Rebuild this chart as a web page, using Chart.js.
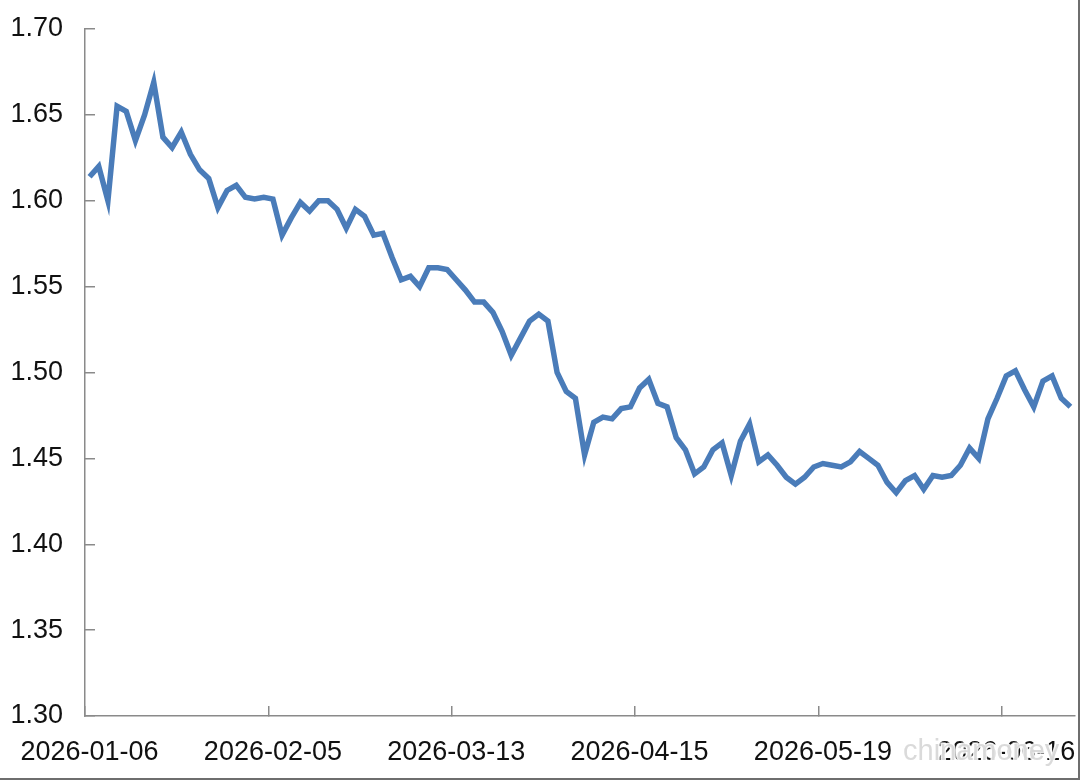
<!DOCTYPE html>
<html>
<head>
<meta charset="utf-8">
<script src="https://cdn.jsdelivr.net/npm/chart.js@4/dist/chart.umd.min.js"></script>
<style>
  html, body { margin: 0; padding: 0; background: #fff; overflow: hidden; }
  #wrap { width: 1080px; height: 780px; position: relative; }
</style>
</head>
<body>
<div id="wrap"><canvas id="c" width="1080" height="780"></canvas></div>
<script>
// Tick labels shown every 20 trading days
const tickLabels = ['2026-01-06', '2026-02-05', '2026-03-13', '2026-04-15', '2026-05-19', '2026-06-16'];
const labelEvery = 20;

// Series values
const values = [
  1.614, 1.620, 1.600, 1.655, 1.652, 1.635, 1.650, 1.669, 1.637, 1.631,
  1.640, 1.627, 1.618, 1.613, 1.596, 1.606, 1.609, 1.602, 1.601, 1.602,
  1.601, 1.580, 1.590, 1.599, 1.594, 1.600, 1.600, 1.595, 1.584, 1.595,
  1.591, 1.580, 1.581, 1.567, 1.554, 1.556, 1.550, 1.561, 1.561, 1.560,
  1.554, 1.548, 1.541, 1.541, 1.535, 1.524, 1.510, 1.520, 1.530, 1.534,
  1.530, 1.500, 1.489, 1.485, 1.452, 1.471, 1.474, 1.473, 1.479, 1.480,
  1.491, 1.496, 1.482, 1.480, 1.462, 1.455, 1.441, 1.445, 1.455, 1.459,
  1.440, 1.460, 1.470, 1.448, 1.452, 1.446, 1.439, 1.435, 1.439, 1.445,
  1.447, 1.446, 1.445, 1.448, 1.454, 1.450, 1.446, 1.436, 1.430, 1.437,
  1.440, 1.432, 1.440, 1.439, 1.440, 1.446, 1.456, 1.450, 1.473, 1.485,
  1.498, 1.501, 1.490, 1.480, 1.495, 1.498, 1.485, 1.480
];

const yMin = 1.30, yMax = 1.70, yStep = 0.05;

const categories = values.map((_, i) => i);

const AXIS = '#8a8a8a';
const TEXT = '#111111';
const FONT = { family: '"Liberation Sans", Arial, Helvetica, sans-serif', size: 27 };

const extras = {
  id: 'extras',
  afterDraw(chart) {
    const ctx = chart.ctx;
    ctx.save();
    // watermark
    ctx.font = '29px "Liberation Sans", Arial, sans-serif';
    ctx.textBaseline = 'alphabetic';
    ctx.globalAlpha = 0.9;
    ctx.lineWidth = 3;
    ctx.strokeStyle = '#ffffff';
    ctx.strokeText('chinamoney', 903, 760);
    ctx.fillStyle = '#d6d6d6';
    ctx.fillText('chinamoney', 903, 760);
    ctx.globalAlpha = 1;
    // photo frame edges
    ctx.strokeStyle = '#6e6e6e';
    ctx.lineWidth = 2;
    ctx.beginPath();
    ctx.moveTo(0, 779);
    ctx.lineTo(1079, 779);
    ctx.lineTo(1079, 0);
    ctx.stroke();
    ctx.restore();
  }
};

new Chart(document.getElementById('c'), {
  type: 'line',
  data: {
    labels: categories,
    datasets: [{
      data: values,
      borderColor: '#4a7cb9',
      borderWidth: 5.5,
      pointRadius: 0,
      pointHoverRadius: 0,
      tension: 0,
      fill: false
    }]
  },
  options: {
    responsive: false,
    animation: false,
    events: [],
    layout: { padding: { top: 29, right: 5, left: 0, bottom: 0 } },
    plugins: {
      legend: { display: false },
      tooltip: { enabled: false },
      title: { display: false }
    },
    scales: {
      x: {
        type: 'category',
        offset: true,
        grid: {
          offset: true,
          drawOnChartArea: false,
          drawTicks: true,
          tickLength: -10,
          lineWidth: 1.5,
          color: (c) => (c.index % labelEvery === 0 ? AXIS : 'rgba(0,0,0,0)')
        },
        border: { display: true, color: AXIS, width: 1.5 },
        ticks: {
          autoSkip: false,
          maxRotation: 0,
          minRotation: 0,
          padding: 30,
          color: TEXT,
          font: FONT,
          callback: (v, i) => (i % labelEvery === 0 ? (tickLabels[i / labelEvery] || '') : '')
        },
        afterFit: (s) => { s.height = 64; s.paddingLeft = 0; s.paddingRight = 0; }
      },
      y: {
        min: yMin,
        max: yMax,
        grid: {
          drawOnChartArea: false,
          drawTicks: true,
          tickLength: -10,
          lineWidth: 1.5,
          color: AXIS
        },
        border: { display: true, color: AXIS, width: 1.5 },
        ticks: {
          stepSize: yStep,
          padding: 32,
          color: TEXT,
          font: FONT,
          callback: (v) => Number(v).toFixed(2)
        },
        afterFit: (s) => { s.width = 85; s.paddingTop = 0; s.paddingBottom = 0; }
      }
    }
  },
  plugins: [extras]
});
</script>
</body>
</html>
